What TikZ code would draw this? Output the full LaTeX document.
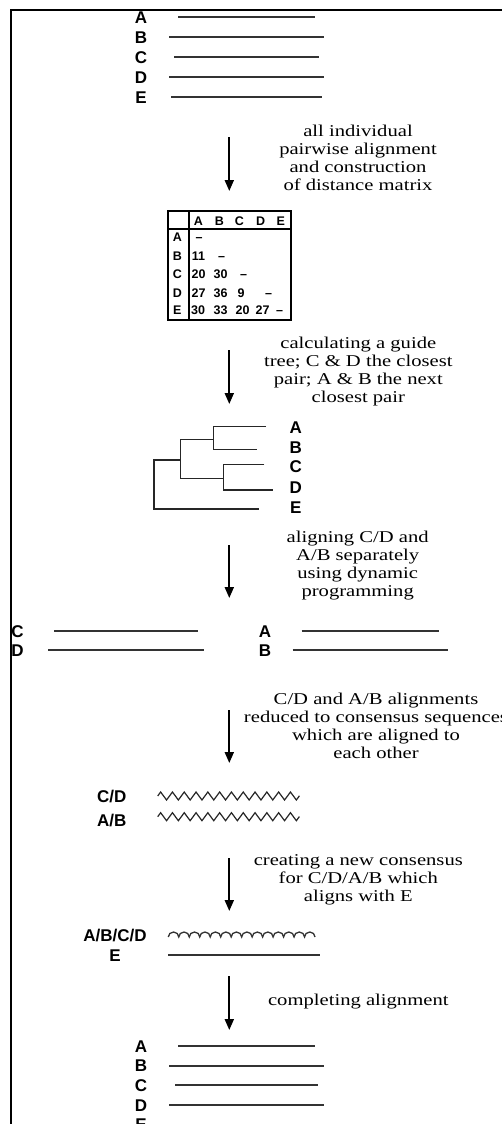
\documentclass[tikz,border=0pt]{standalone}
\usepackage{fontspec}
\setmainfont{Liberation Serif}
\newfontfamily\stepfont[FakeStretch=1.25]{Liberation Serif}
\newfontfamily\labelfont{Liberation Sans}
\usepackage{tikz}
\usetikzlibrary{arrows.meta, decorations.pathmorphing}

\begin{document}
\begin{tikzpicture}[
    x=1pt, y=-1pt,
    % Define common styles
        seqline/.style={line width=1.6pt, draw=black!80},
        seqlabel/.style={font=\labelfont\bfseries\fontsize{17}{17}\selectfont, inner sep=0pt, text height=12.2pt, text depth=0pt},
        celltext/.style={font=\labelfont\bfseries\fontsize{12.5}{12.5}\selectfont, inner sep=0pt, text height=9pt, text depth=0pt},
        steptext/.style={align=center, font=\stepfont\fontsize{16.5}{18}\selectfont, inner sep=0pt},
        flow/.style={-{Triangle[width=9pt,length=11pt]}, line width=2pt},
        branch/.style={line width=1.5pt, draw=black!85},
        zigline/.style={line width=1.2pt, draw=black!85, decorate, decoration={zigzag, segment length=11.8pt, amplitude=4pt}},
        frame/.style={line width=2pt}
    ]

        \useasboundingbox (0,0) rectangle (502,1124);
        \clip (0,0) rectangle (502,1124);

        % Frame of the cut-out
        \draw[frame] (11,1124) -- (11,10) -- (502,10);

        % Unaligned sequences
        \foreach \name/\y/\xa/\xb in {A/17/178/315, B/37/169/324, C/57/174/319, D/77/169/324, E/97/171/322} {
            \node[seqlabel] (top\name) at (141,\y) {\name};
            \coordinate (top\name s) at (\xa,\y);
            \coordinate (top\name e) at (\xb,\y);
            \draw[seqline] (top\name s) -- (top\name e);
        }

        % Step 1
        \coordinate (flowAs) at (229.3,137);
        \coordinate (flowAe) at (229.3,191);
        \draw[flow] (flowAs) -- (flowAe);
        \node[steptext] (stepA) at (358,158) {all individual\\pairwise alignment\\and construction\\of distance matrix};

        % Distance matrix
        \draw[frame] (167.5,211) rectangle (290.5,320);
        \draw[frame] (189.3,211) -- (189.3,320);
        \draw[frame] (167.5,229.3) -- (290.5,229.3);
        \foreach \name/\x in {A/198.3, B/219.3, C/239.3, D/260.7, E/280.7}
            \node[celltext] (col\name) at (\x,220.7) {\name};
        \foreach \name/\y in {A/236.7, B/255.7, C/274.3, D/292.7, E/310}
            \node[celltext] (row\name) at (177.3,\y) {\name};
        \foreach \x/\y/\val [count=\i] in {199/236.7/\textendash,
                198.5/255.7/11, 221.5/255.7/\textendash,
                198.5/274.3/20, 220.5/274.3/30, 243.5/274.3/\textendash,
                198.5/292.7/27, 220.5/292.7/36, 241/292.7/9, 268.5/292.7/\textendash,
                198/310/30, 220.5/310/33, 242.5/310/20, 262.5/310/27, 279.5/310/\textendash}
            \node[celltext] (cell\i) at (\x,\y) {\val};

        % Step 2
        \coordinate (flowBs) at (229.3,350);
        \coordinate (flowBe) at (229.3,404);
        \draw[flow] (flowBs) -- (flowBe);
        \node[steptext] (stepB) at (358.3,371.5) {calculating a guide\\tree; C \& D the closest\\pair; A \& B the next\\closest pair};

        % Guide tree
        \coordinate (abJoin) at (213.3,439.3);
        \coordinate (cdJoin) at (223.3,478.3);
        \coordinate (abcdJoin) at (180.7,460);
        \draw[branch] (266,426.7) -| (213.3,449.3) -- (256.7,449.3);
        \draw[branch] (264.3,464.3) -| (223.3,490) -- (273.3,490);
        \draw[branch] (abJoin) -| (180.7,478.3) -- (cdJoin);
        \draw[branch] (abcdJoin) -| (154,509) -- (259,509);
        \foreach \name/\y in {A/427.7, B/447.3, C/466.7, D/487.3, E/507.3}
            \node[seqlabel] (leaf\name) at (295.7,\y) {\name};

        % Step 3
        \coordinate (flowCs) at (229.3,545);
        \coordinate (flowCe) at (229.3,598);
        \draw[flow] (flowCs) -- (flowCe);
        \node[steptext] (stepC) at (357.7,565.5) {aligning C/D and\\A/B separately\\using dynamic\\programming};

        % Pairwise alignments
        \foreach \name/\lx/\y/\xa/\xb in {C/17.5/631/54.3/198.3, D/17.5/650/48.3/204, A/265/631/301.7/439, B/265/650/292.7/448.3} {
            \node[seqlabel] (pair\name) at (\lx,\y) {\name};
            \coordinate (pair\name s) at (\xa,\y);
            \coordinate (pair\name e) at (\xb,\y);
            \draw[seqline] (pair\name s) -- (pair\name e);
        }

        % Step 4
        \coordinate (flowDs) at (229.3,710);
        \coordinate (flowDe) at (229.3,763);
        \draw[flow] (flowDs) -- (flowDe);
        \node[steptext] (stepD) at (376,726) {C/D and A/B alignments\\reduced to consensus sequences\\which are aligned to\\each other};

        % Consensus sequences
        \node[seqlabel] (consCD) at (111.7,796) {C/D};
        \node[seqlabel] (consAB) at (111.7,820) {A/B};
        \draw[zigline] (157.7,796) -- (299.3,796);
        \draw[zigline] (157.7,816.7) -- (299.3,816.7);

        % Step 5
        \coordinate (flowEs) at (229.3,858);
        \coordinate (flowEe) at (229.3,911);
        \draw[flow] (flowEs) -- (flowEe);
        \node[steptext] (stepE) at (358.3,879.5) {creating a new consensus\\for C/D/A/B which\\aligns with E};

        % New consensus against E
        \node[seqlabel] (consAll) at (115,935) {A/B/C/D};
        \node[seqlabel] (consE) at (115,955) {E};
        \coordinate (scallop) at (168.3,937);
        \draw[seqline, line width=1.3pt] (scallop) foreach \i in {1,...,14} {arc[start angle=180, end angle=0, x radius=5.24pt, y radius=5pt]};
        \draw[seqline] (168.3,955) -- (320,955);

        % Step 6
        \coordinate (flowFs) at (229.3,976);
        \coordinate (flowFe) at (229.3,1030);
        \draw[flow] (flowFs) -- (flowFe);
        \node[steptext] (stepF) at (358.3,1001.7) {completing alignment};

        % Final alignment
        \foreach \name/\y/\xa/\xb in {A/1046/178/315, B/1065.7/169/324, C/1085/175/318, D/1105/169/324, E/1124.5/171/322} {
            \node[seqlabel] (fin\name) at (141,\y) {\name};
            \coordinate (fin\name s) at (\xa,\y);
            \coordinate (fin\name e) at (\xb,\y);
            \draw[seqline] (fin\name s) -- (fin\name e);
        }

    \end{tikzpicture}
\end{document}
